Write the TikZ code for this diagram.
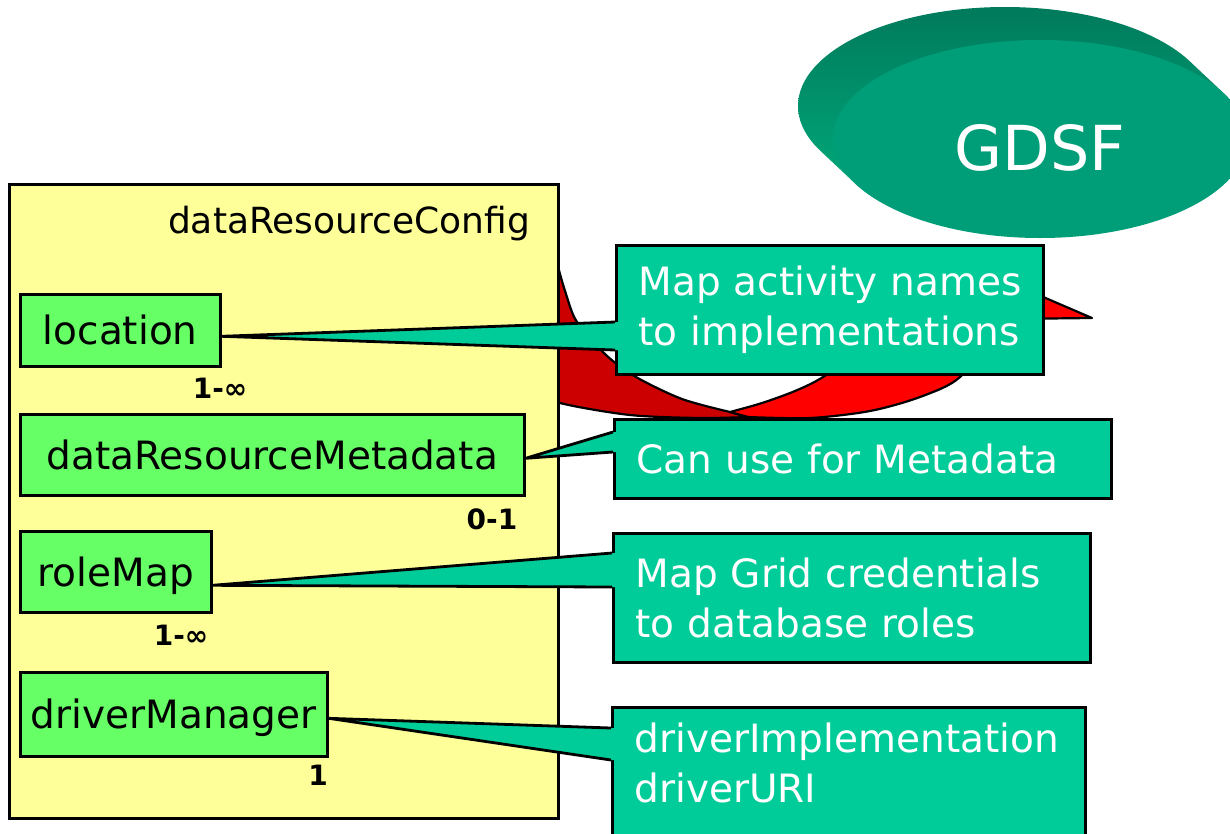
\documentclass[tikz,border=0pt]{standalone}
\usepackage{fontspec}
\setmainfont{DejaVu Sans}
\usetikzlibrary{calc,shapes.geometric}
\definecolor{cfgYellow}{HTML}{FFFF99}
\definecolor{elemGreen}{HTML}{66FF66}
\definecolor{noteTeal}{HTML}{00CC99}
\definecolor{arrowDark}{HTML}{CC0000}
\definecolor{arrowLight}{HTML}{FF0000}
\definecolor{gdsfFace}{HTML}{009E78}
\definecolor{gdsfTop}{HTML}{007A5C}
\definecolor{gdsfSide}{HTML}{00B482}
\tikzset{
  elem/.style={draw=black, line width=2.6pt, fill=elemGreen, anchor=north west,
    inner sep=0pt, text height=29pt, text depth=0pt,
    font=\fontsize{39}{47}\selectfont},
  mult/.style={anchor=base, inner sep=0pt, font=\bfseries\fontsize{28}{30}\selectfont},
  note/.style={draw=black, line width=3pt, fill=noteTeal, anchor=north west,
    inner xsep=22pt, inner ysep=0pt, align=left, text=white,
    font=\fontsize{39}{50}\selectfont},
  tailedge/.style={draw=black, line width=2.8pt, line join=round},
  arrowpart/.style={draw=black, line width=2.2pt, line join=round}
}
\begin{document}
\begin{tikzpicture}[x=1pt,y=-1pt]
\useasboundingbox (0,0) rectangle (1230,833);
\clip (0,0) rectangle (1230,833);
\fill[white] (0,0) rectangle (1230,833);

% curved arrow: shadowed back half
\filldraw[arrowpart, fill=arrowDark]
  plot[smooth] coordinates {(552,228) (557,262) (566,294) (577,322) (606,355) (636,377) (682,399) (730,412)}
  -- (748,417)
  -- plot[smooth] coordinates {(748,417) (700,418) (630,415) (560,403) (525,388)}
  -- (520,228) -- cycle;
% curved arrow: front half with its head
\filldraw[arrowpart, fill=arrowLight]
  plot[smooth] coordinates {(730,412) (762,403) (795,391) (823,377) (862,348) (900,316) (935,290)}
  -- (985,272) -- (1092,318) -- (1005,319) -- (992,330)
  -- plot[smooth] coordinates {(992,330) (960,377) (920,397) (870,411) (810,418) (748,417)}
  -- cycle;

% GDSF disc: extruded rim, then face
\shade[top color=gdsfTop, bottom color=gdsfSide]
  \foreach \k in {0,1,...,34} { (1005+\k,106+0.94*\k) ellipse [x radius=207, y radius=99] };
\node[ellipse, fill=gdsfFace, minimum width=414pt, minimum height=198pt, inner sep=0pt,
  text=white, font=\fontsize{62}{70}\selectfont, text height=62pt, text depth=0pt]
  (gdsf) at (1040,139) {GDSF};

% configuration element
\node[draw=black, line width=2.6pt, fill=cfgYellow, anchor=north west,
  minimum width=549pt, minimum height=634pt, inner sep=0pt] (cfg) at (8,183) {};
\node[anchor=base east, inner sep=0pt, font=\fontsize{36}{40}\selectfont]
  (cfgtitle) at (530,233) {dataResourceConfig};

% child elements
\node[elem, minimum width=200pt, minimum height=72pt] (loc) at (19,293) {location};
\node[elem, minimum width=504pt, minimum height=81pt] (drm) at (19,413) {dataResourceMetadata};
\node[elem, minimum width=191pt, minimum height=81pt] (rm)  at (19,530) {roleMap};
\node[elem, minimum width=307pt, minimum height=84pt] (dm)  at (19,671) {driverManager};

% multiplicities
\node[mult] (locm) at (220,398) {1-∞};
\node[mult] (drmm) at (492,529) {0-1};
\node[mult] (rmm)  at (181,645) {1-∞};
\node[mult] (dmm)  at (318,785) {1};

% callouts
\node[note, text width=383pt, minimum height=129pt] (n1) at (615,244)
  {Map activity names\\to implementations};
\node[note, text width=453pt, minimum height=79pt] (n2) at (613,418)
  {Can use for Metadata};
\node[note, text width=433pt, minimum height=129pt] (n3) at (612,532)
  {Map Grid credentials\\to database roles};
\node[note, text width=429pt, inner ysep=15pt] (n4) at (611,706)
  {driverImplementation\\driverURI\rule[-80pt]{0pt}{0pt}};

% callout tails
\foreach \src/\dst/\dy/\ta/\tb in {loc/n1/6/78/106, drm/n2/3.5/14/34, rm/n3/13.5/21/55, dm/n4/4/22/54} {
  \coordinate (\dst tip) at ($(\src.east)+(0,\dy)$);
  \coordinate (\dst top) at ($(\dst.north west)+(0,\ta)$);
  \coordinate (\dst bot) at ($(\dst.north west)+(0,\tb)$);
  \fill[noteTeal] (\dst tip) -- (\dst top) -- ($(\dst top)+(6,0)$)
    -- ($(\dst bot)+(6,0)$) -- (\dst bot) -- cycle;
  \draw[tailedge] (\dst top) -- (\dst tip) -- (\dst bot);
}
\end{tikzpicture}
\end{document}
